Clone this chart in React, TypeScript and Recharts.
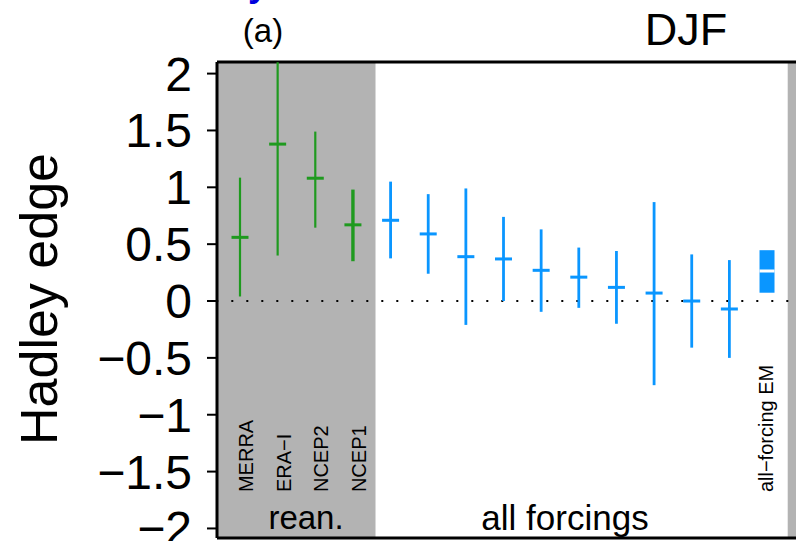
import {
  ComposedChart,
  ErrorBar,
  ReferenceArea,
  ReferenceLine,
  Scatter,
  XAxis,
  YAxis
} from "recharts"

const FONT = "'Liberation Sans', Arial, Helvetica, sans-serif"
const GREEN = "#1f9a1f"
const BLUE = "#0a96ff"
const GREY = "#b3b3b3"

// reanalyses (grey panel)
const reanNames = ["MERRA", "ERA\u2212I", "NCEP2", "NCEP1"]
const reanMid = [0.56, 1.38, 1.08, 0.67]
const reanLow = [0.04, 0.4, 0.645, 0.35]
const reanHigh = [1.085, 2.1, 1.49, 0.98]

// all-forcing runs
const forcMid = [0.71, 0.59, 0.39, 0.37, 0.27, 0.21, 0.12, 0.07, 0.0, -0.07]
const forcLow = [0.375, 0.24, -0.21, 0.0, -0.095, -0.06, -0.2, -0.74, -0.41, -0.5]
const forcHigh = [1.05, 0.94, 0.99, 0.74, 0.63, 0.47, 0.44, 0.87, 0.41, 0.36]

// ensemble mean box
const emName = "all\u2212forcing EM"
const emMid = [0.264]
const emLow = [0.073]
const emHigh = [0.447]

const yTicks = [-2, -1.5, -1, -0.5, 0, 0.5, 1, 1.5, 2]

const Y_MIN = -2.084
const Y_MAX = 2.102
const X_MIN = -0.611
const X_MAX = 14.77
const REAN_END = 3.6
const STRIP_START = 14.55
const LABEL_Y = -1.68

const toRows = (mid: number[], low: number[], high: number[], start: number) =>
  mid.map((m, i) => ({
    pos: start + i,
    y: m,
    err: [m - low[i], high[i] - m]
  }))

const reanRows = toRows(reanMid, reanLow, reanHigh, 0)
const reanThin = reanRows.filter((_, i) => reanNames[i] !== "NCEP1")
const reanThick = reanRows.filter((_, i) => reanNames[i] === "NCEP1")
const forcRows = toRows(forcMid, forcLow, forcHigh, reanMid.length)
const emRows = toRows(emMid, emLow, emHigh, reanMid.length + forcMid.length)

const reanLabels = reanNames.map((name, i) => ({ pos: i, y: LABEL_Y, name }))
const emLabels = [{ pos: reanMid.length + forcMid.length, y: LABEL_Y, name: emName }]

const fmt = (v: number) => (v < 0 ? `\u2212${-v}` : `${v}`)

const midTick = (color: string, half: number) => (props: any) => {
  const { cx, cy } = props
  return (
    <line x1={cx - half} x2={cx + half} y1={cy} y2={cy} stroke={color} strokeWidth={3} />
  )
}

const rotLabel = (dx: number) => (props: any) => {
  const { cx, cy, payload } = props
  const x = cx + dx
  return (
    <text
      x={x}
      y={cy}
      transform={`rotate(-90 ${x} ${cy})`}
      fontSize={20}
      fontFamily={FONT}
      fill="#000"
      textAnchor="start"
    >
      {payload.name}
    </text>
  )
}

export default function App() {
  return (
    <div style={{ position: "absolute", left: 0, top: 0, width: 800, height: 541, background: "#fff" }}>
      <ComposedChart
        width={800}
        height={541}
        margin={{ top: 62, right: 4, bottom: 3, left: 0 }}
      >
        <XAxis
          type="number"
          dataKey="pos"
          domain={[X_MIN, X_MAX]}
          allowDataOverflow
          hide
        />
        <YAxis
          type="number"
          dataKey="y"
          width={217}
          domain={[Y_MIN, Y_MAX]}
          allowDataOverflow
          ticks={yTicks}
          interval={0}
          tickFormatter={fmt}
          tickSize={10}
          tickMargin={15}
          tick={{ fontSize: 48, fill: "#000", fontFamily: FONT }}
          tickLine={{ stroke: "#000", strokeWidth: 2 }}
          axisLine={{ stroke: "#000", strokeWidth: 3 }}
        />

        <ReferenceArea x1={X_MIN} x2={REAN_END} fill={GREY} fillOpacity={1} stroke="none" />
        <ReferenceArea x1={STRIP_START} x2={X_MAX} fill={GREY} fillOpacity={1} stroke="none" />
        <ReferenceLine y={0} stroke="#000" strokeWidth={2} strokeDasharray="2 13" strokeDashoffset={0.7} />
        <ReferenceLine y={Y_MAX} stroke="#000" strokeWidth={3} />
        <ReferenceLine y={Y_MIN} stroke="#000" strokeWidth={3} />

        <Scatter data={reanThin} shape={midTick(GREEN, 8.5)} isAnimationActive={false}>
          <ErrorBar dataKey="err" direction="y" width={0} stroke={GREEN} strokeWidth={2.2} isAnimationActive={false} />
        </Scatter>
        <Scatter data={reanThick} shape={midTick(GREEN, 8.5)} isAnimationActive={false}>
          <ErrorBar dataKey="err" direction="y" width={0} stroke={GREEN} strokeWidth={3.4} isAnimationActive={false} />
        </Scatter>
        <Scatter data={forcRows} shape={midTick(BLUE, 8.5)} isAnimationActive={false}>
          <ErrorBar dataKey="err" direction="y" width={0} stroke={BLUE} strokeWidth={2.8} isAnimationActive={false} />
        </Scatter>
        <Scatter data={emRows} shape={midTick("#fff", 7.5)} isAnimationActive={false}>
          <ErrorBar dataKey="err" direction="y" width={0} stroke={BLUE} strokeWidth={15} isAnimationActive={false} />
        </Scatter>

        <Scatter data={reanLabels} shape={rotLabel(13)} isAnimationActive={false} />
        <Scatter data={emLabels} shape={rotLabel(6)} isAnimationActive={false} />
      </ComposedChart>

      <svg
        width={800}
        height={541}
        style={{ position: "absolute", left: 0, top: 0, pointerEvents: "none" }}
        fontFamily={FONT}
      >
        <text x={258} y={-4} fontSize={36} fontWeight="bold" fill="#0000dd" textAnchor="middle">y</text>
        <text x={263} y={42} fontSize={33} fill="#000" textAnchor="middle">(a)</text>
        <text x={686} y={45} fontSize={45} fill="#000" textAnchor="middle">DJF</text>
        <text
          x={57}
          y={299}
          fontSize={52}
          fill="#000"
          textAnchor="middle"
          transform="rotate(-90 57 299)"
        >
          Hadley edge
        </text>
        <text x={306} y={529} fontSize={33} fill="#000" textAnchor="middle">rean.</text>
        <text x={565} y={530} fontSize={35} fill="#000" textAnchor="middle">all forcings</text>
      </svg>
    </div>
  )
}
